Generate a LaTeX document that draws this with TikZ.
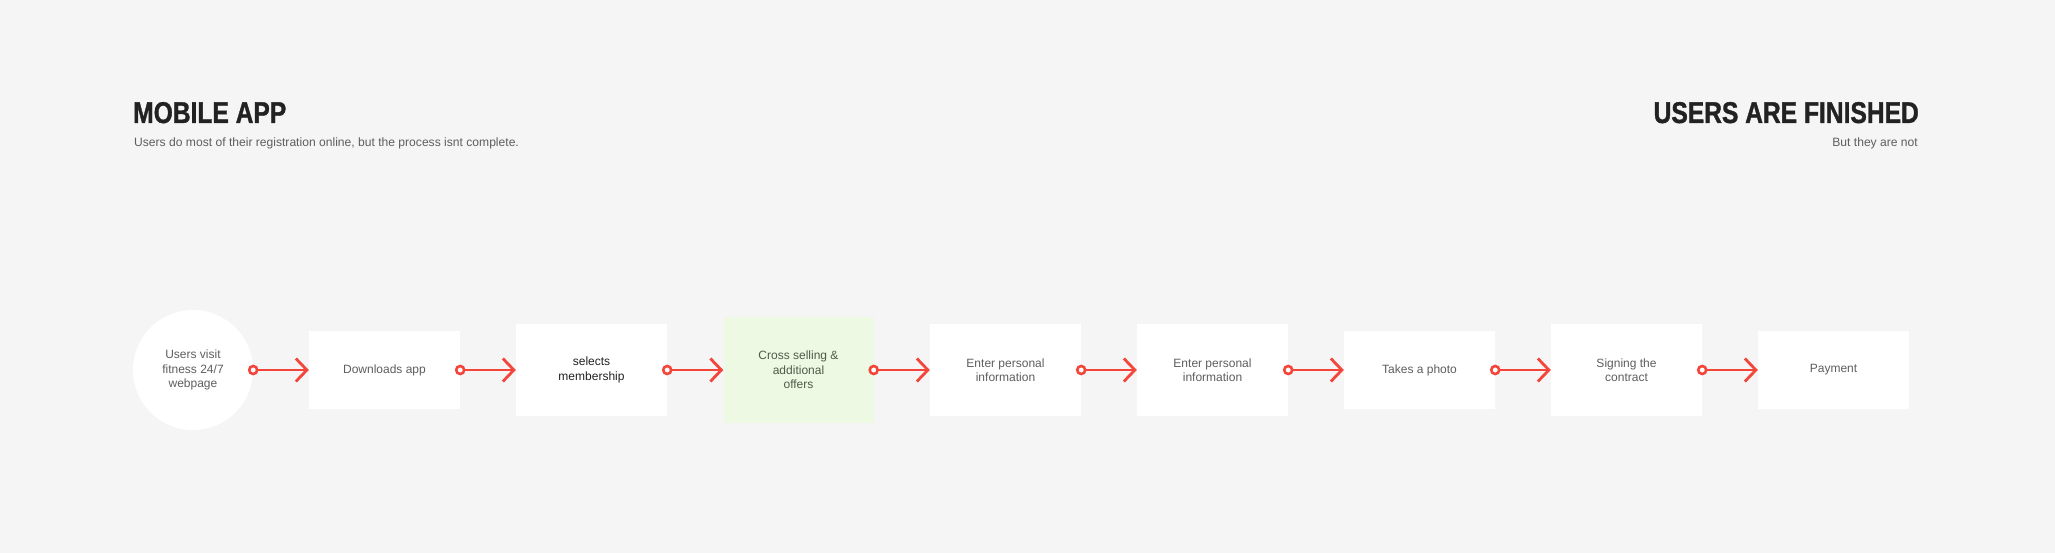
\documentclass[tikz,border=0pt]{standalone}
\usepackage{fontspec}
\setmainfont{Liberation Sans}
\newfontfamily\titlefont[FakeStretch=0.82,FakeBold=1.2]{Liberation Sans Bold}
\usetikzlibrary{arrows.meta}
\definecolor{bg}{HTML}{F5F5F5}
\definecolor{txt}{HTML}{5E5E5E}
\definecolor{dark}{HTML}{222222}
\definecolor{conred}{HTML}{F4453A}
\definecolor{lgreen}{HTML}{EEF9E3}
\definecolor{gtxt}{HTML}{4F5A4A}
\tikzset{
  nodefont/.style={font=\fontsize{12}{14.5}\selectfont},
  stepbox/.style={fill=white, minimum width=151pt, inner sep=0pt, align=center, text=txt, nodefont},
  conn/.style={draw=conred, line width=2.8pt, -{Straight Barb[length=11pt,width=23pt,line width=2.8pt]}},
  ring/.style={draw=conred, fill=white, line width=2.6pt},
  ttl/.style={inner sep=0pt, text=dark, font=\titlefont\fontsize{30}{30}\selectfont},
  sub/.style={inner sep=0pt, text=txt, font=\fontsize{12.1}{14}\selectfont},
}
\begin{document}
\begin{tikzpicture}[x=1pt,y=-1pt]
\fill[bg] (0,0) rectangle (2055,553);
\useasboundingbox (0,0) rectangle (2055,553);
\node[ttl, anchor=base west] (t1) at (133,123) {MOBILE APP};
\node[sub, anchor=base west] (s1) at (134,147) {Users do most of their registration online, but the process isnt complete.};
\node[ttl, anchor=base east] (t2) at (1919,123) {USERS ARE FINISHED};
\node[sub, anchor=base east] (s2) at (1918,147) {But they are not};

\node[circle, fill=white, minimum size=120pt, inner sep=0pt, align=center, text=txt, nodefont] (n0) at (193,370) {Users visit\\fitness 24/7\\webpage};
\node[stepbox, minimum height=78pt] (n1) at (384.5,370) {Downloads app};
\node[stepbox, minimum height=92pt, text=dark] (n2) at (591.5,370) {selects\\membership};
\node[stepbox, minimum height=106pt, minimum width=150pt, fill=lgreen, text=gtxt] (n3) at (798.5,370) {Cross selling \&\\additional\\offers};
\node[stepbox, minimum height=92pt] (n4) at (1005.5,370) {Enter personal\\information};
\node[stepbox, minimum height=92pt] (n5) at (1212.5,370) {Enter personal\\information};
\node[stepbox, minimum height=78pt] (n6) at (1419.5,370) {Takes a photo};
\node[stepbox, minimum height=92pt] (n7) at (1626.5,370) {Signing the\\contract};
\node[stepbox, minimum height=78pt] (n8) at (1833.5,370) {Payment};

\foreach \a/\b in {n0/n1,n1/n2,n2/n3,n3/n4,n4/n5,n5/n6,n6/n7,n7/n8}{
  \draw[conn] (\a.east) ++(4pt,0) -- (\b.west);
  \draw[ring] (\a.east) circle (4pt);
}
\end{tikzpicture}
\end{document}
